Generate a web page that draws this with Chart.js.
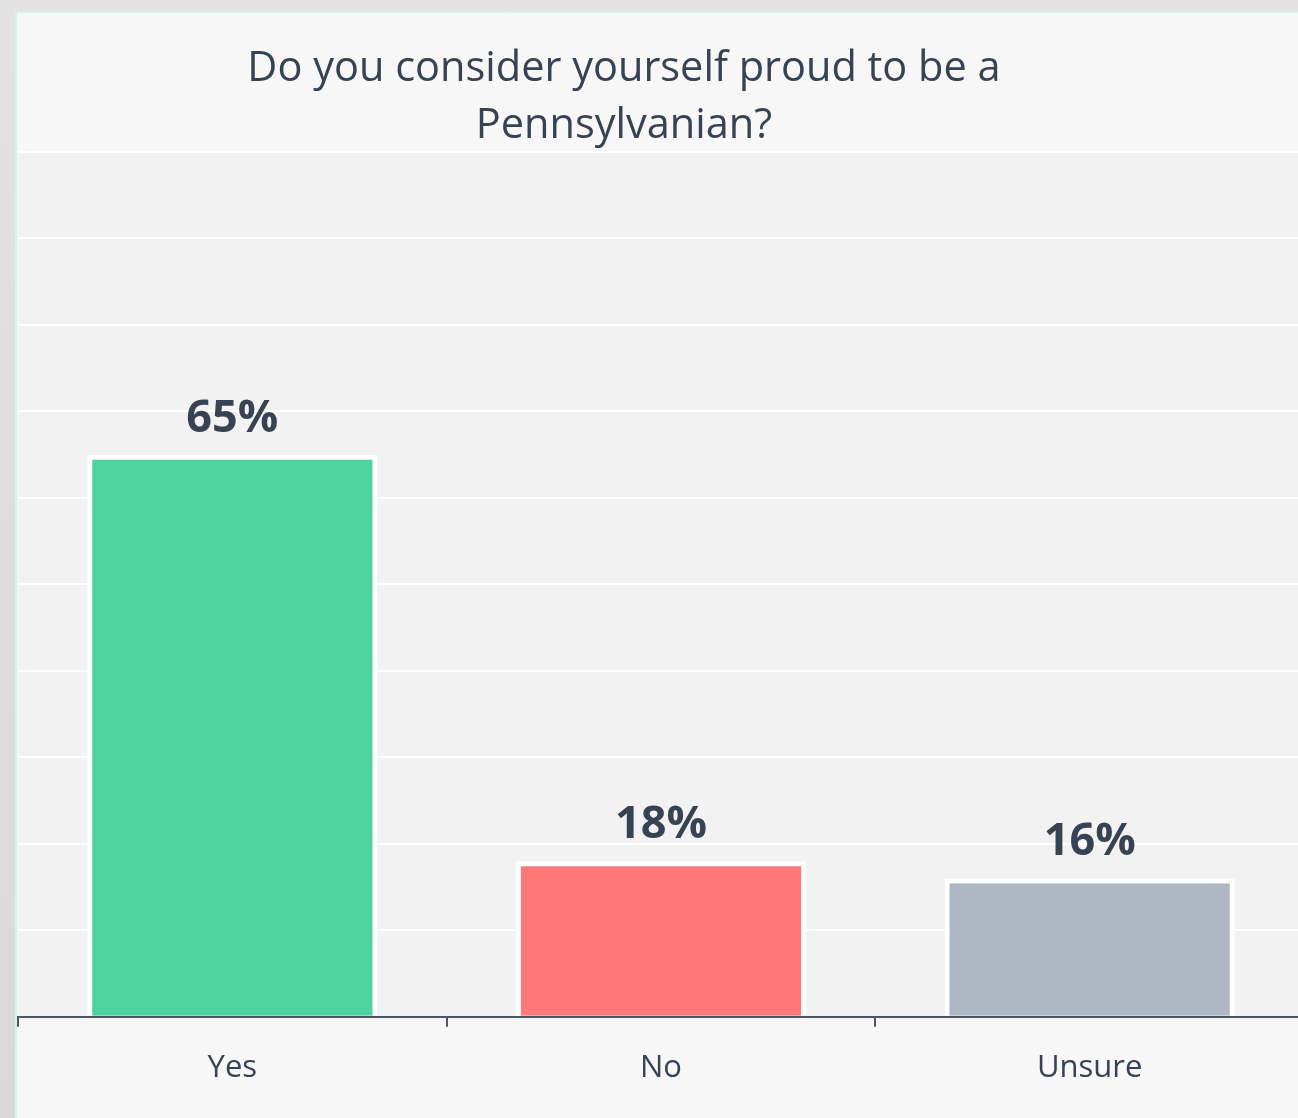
<!DOCTYPE html>
<html>
<head>
<meta charset="utf-8">
<script src="https://cdn.jsdelivr.net/npm/chart.js@4/dist/chart.umd.min.js"></script>
<style>
  html, body { margin: 0; padding: 0; overflow: hidden; }
  body { width: 1298px; height: 1118px; background: linear-gradient(#e2e2e2, #d9d9d9); position: relative; }
  .card { position: absolute; left: 15px; top: 11px; width: 1320px; height: 1130px;
          border: 2px solid #d6f3e9; background: #f7f7f7; }
  .wrap { position: absolute; left: 0; top: 0; width: 1290px; height: 1105px; }
</style>
</head>
<body>
<div class="card"><div class="wrap"><canvas id="my-chart"></canvas></div></div>
<script>
var labels = ['Yes', 'No', 'Unsure'];
var values = [65, 18, 16];
var barColors = ['#4dd2a0', '#ff7878', '#adb8c4'];
var titleLines = ['Do you consider yourself proud to be a', 'Pennsylvanian?'];

var textColor = '#374252';

// grey plot background
var plotBg = {
  id: 'plotBg',
  beforeDraw: function (chart) {
    var a = chart.chartArea, c = chart.ctx;
    c.save();
    c.fillStyle = '#f2f2f2';
    c.fillRect(a.left, a.top, a.right - a.left, a.bottom - a.top);
    c.restore();
  }
};

// title, centered a bit left of the plot like the original
var titleText = {
  id: 'titleText',
  afterDraw: function (chart) {
    var c = chart.ctx;
    c.save();
    c.fillStyle = textColor;
    c.font = '41.5px "Open Sans"';
    c.textAlign = 'center';
    c.textBaseline = 'alphabetic';
    c.fillText(titleLines[0], 607, 68);
    c.fillText(titleLines[1], 607, 125);
    c.restore();
  }
};

// value labels above bars
var valueLabels = {
  id: 'valueLabels',
  afterDatasetsDraw: function (chart) {
    var c = chart.ctx;
    var meta = chart.getDatasetMeta(0);
    c.save();
    c.fillStyle = textColor;
    c.font = 'bold 45px "Open Sans"';
    c.textAlign = 'center';
    c.textBaseline = 'alphabetic';
    meta.data.forEach(function (bar, i) {
      c.fillText(values[i] + '%', bar.x, bar.y - 23);
    });
    c.restore();
  }
};

var ctx = document.getElementById('my-chart').getContext('2d');
var myChart = new Chart(ctx, {
  type: 'bar',
  data: {
    labels: labels,
    datasets: [{
      data: values,
      backgroundColor: barColors,
      borderColor: '#ffffff',
      borderWidth: 5,
      barPercentage: 0.677,
      categoryPercentage: 1
    }]
  },
  options: {
    responsive: true,
    maintainAspectRatio: false,
    animation: false,
    layout: { padding: { top: 139, left: 1, right: 3, bottom: 8 } },
    plugins: { legend: { display: false }, tooltip: { enabled: false } },
    scales: {
      x: {
        grid: { drawOnChartArea: false, drawTicks: true, tickLength: 10, color: '#4b5563', lineWidth: 2 },
        border: { color: '#4b5563', width: 2 },
        ticks: { color: textColor, font: { family: 'Open Sans', size: 31 }, padding: 23 }
      },
      y: {
        min: 0,
        max: 100,
        ticks: { display: false, stepSize: 10 },
        grid: { color: '#ffffff', lineWidth: 2, drawTicks: false },
        border: { display: false }
      }
    }
  },
  plugins: [plotBg, titleText, valueLabels]
});
</script>
</body>
</html>
